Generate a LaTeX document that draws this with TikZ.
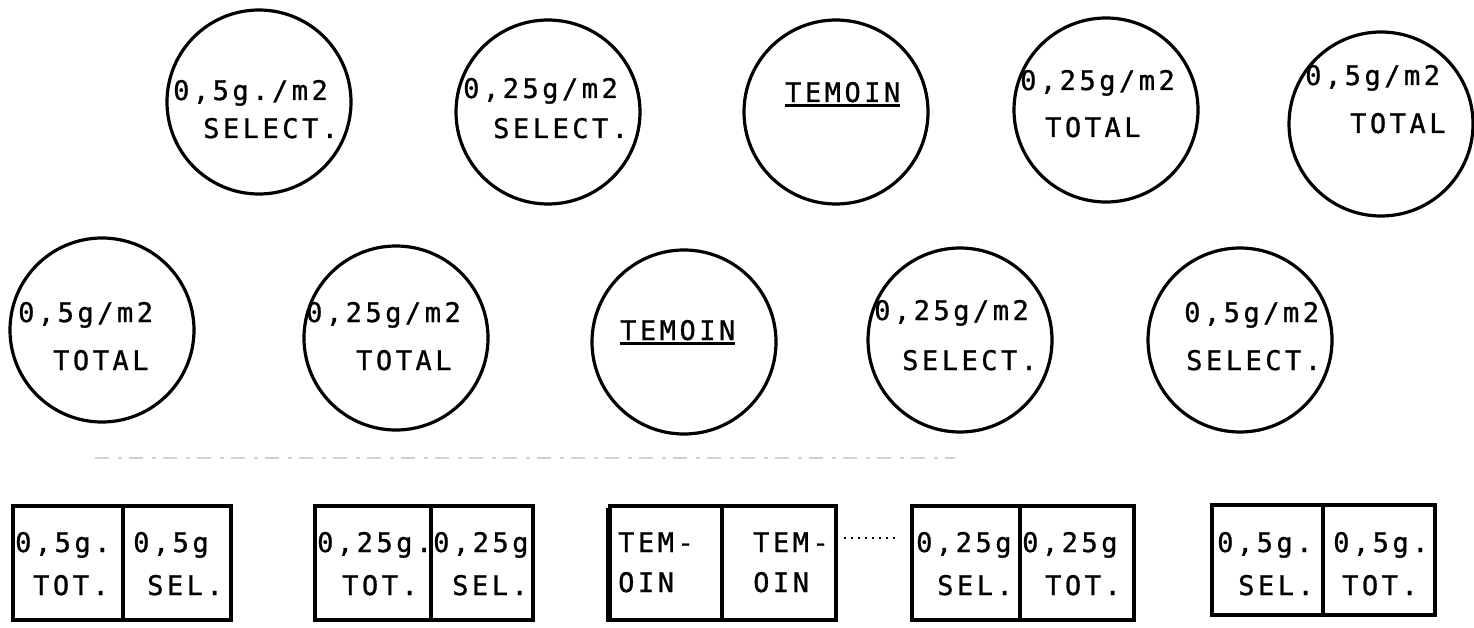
\documentclass[tikz,border=0pt]{standalone}
\usepackage{fontspec}
\newfontfamily\pf[LetterSpace=13, FakeBold=1]{DejaVu Sans Mono}
\begin{document}
\begin{tikzpicture}[x=1pt,y=-1pt]
\tikzset{
  ring/.style={circle, draw, line width=3.2pt, minimum size=184pt, inner sep=0pt},
  cell/.style={rectangle, draw, line width=3.4pt, minimum height=114pt, inner sep=0pt},
  lbl/.style={anchor=base west, inner sep=0pt, font=\pf\fontsize{27}{32}\selectfont},
  uline/.style={line width=2.2pt},
  thickedge/.style={line width=5.5pt},
  dotline/.style={line width=1.6pt, dash pattern=on 2pt off 5pt},
  faint/.style={gray!35, line width=1.2pt, dash pattern=on 14pt off 9pt on 4pt off 7pt}
}
\useasboundingbox (0,0) rectangle (1474,628);
% top row
\node[ring] (c1) at (259,102) {};
\node[ring] (c2) at (548,112) {};
\node[ring] (c3) at (836,112) {};
\node[ring] (c4) at (1106,110) {};
\node[ring] (c5) at (1381,124) {};
\node[lbl] (t1a) at (173,100) {0,5g./m2};
\node[lbl] (t1b) at (203,138) {SELECT.};
\node[lbl] (t2a) at (463,98) {0,25g/m2};
\node[lbl] (t2b) at (493,138) {SELECT.};
\node[lbl] (t3) at (785,102) {TEMOIN};
\draw[uline] ([yshift=-3pt]t3.south west) -- ([yshift=-3pt]t3.south east);
\node[lbl] (t4a) at (1020,90) {0,25g/m2};
\node[lbl] (t4b) at (1045,137) {TOTAL};
\node[lbl] (t5a) at (1305,85) {0,5g/m2};
\node[lbl] (t5b) at (1350,133) {TOTAL};
% middle row
\node[ring] (c6) at (102,330) {};
\node[ring] (c7) at (396,338) {};
\node[ring] (c8) at (684,342) {};
\node[ring] (c9) at (960,340) {};
\node[ring] (c10) at (1240,340) {};
\node[lbl] (t6a) at (18,322) {0,5g/m2};
\node[lbl] (t6b) at (53,370) {TOTAL};
\node[lbl] (t7a) at (306,322) {0,25g/m2};
\node[lbl] (t7b) at (356,370) {TOTAL};
\node[lbl] (t8) at (620,340) {TEMOIN};
\draw[uline] ([yshift=-3pt]t8.south west) -- ([yshift=-3pt]t8.south east);
\node[lbl] (t9a) at (874,320) {0,25g/m2};
\node[lbl] (t9b) at (902,370) {SELECT.};
\node[lbl] (t10a) at (1184,322) {0,5g/m2};
\node[lbl] (t10b) at (1186,370) {SELECT.};
% faint line
\coordinate (fa) at (95,458);
\coordinate (fb) at (955,458);
\draw[faint] (fa) -- (fb);
% bottom row
\node[cell, minimum width=110pt] (b1l) at (68,563) {};
\node[cell, minimum width=108pt] (b1r) at (177,563) {};
\node[cell, minimum width=116pt] (b2l) at (373,563) {};
\node[cell, minimum width=102pt] (b2r) at (482,563) {};
\node[cell, minimum width=112pt] (b3l) at (666,563) {};
\node[cell, minimum width=114pt] (b3r) at (779,563) {};
\draw[thickedge] (b3l.south west) -- ([yshift=-4pt]b3l.north west);
\node[cell, minimum width=108pt] (b4l) at (966,563) {};
\node[cell, minimum width=114pt] (b4r) at (1077,563) {};
\node[cell, minimum width=111pt, minimum height=110pt] (b5l) at (1267.5,560) {};
\node[cell, minimum width=112pt, minimum height=110pt] (b5r) at (1379,560) {};
\node[lbl] at (15,552) {0,5g.};
\node[lbl] at (33,595) {TOT.};
\node[lbl] at (133,552) {0,5g};
\node[lbl] at (147,595) {SEL.};
\node[lbl] at (317,552) {0,25g.};
\node[lbl] at (342,595) {TOT.};
\node[lbl] at (433,552) {0,25g};
\node[lbl] at (452,595) {SEL.};
\node[lbl] at (618,552) {TEM-};
\node[lbl] at (618,592) {OIN};
\node[lbl] at (753,552) {TEM-};
\node[lbl] at (753,592) {OIN};
\node[lbl] at (916,552) {0,25g};
\node[lbl] at (937,595) {SEL.};
\node[lbl] at (1022,552) {0,25g};
\node[lbl] at (1045,595) {TOT.};
\node[lbl] at (1217,552) {0,5g.};
\node[lbl] at (1238,595) {SEL.};
\node[lbl] at (1333,552) {0,5g.};
\node[lbl] at (1342,595) {TOT.};
\coordinate (dl) at (0,538);
\draw[dotline, shorten <=6pt, shorten >=15pt] (b3r.east |- dl) -- (b4l.west |- dl);
\end{tikzpicture}
\end{document}
